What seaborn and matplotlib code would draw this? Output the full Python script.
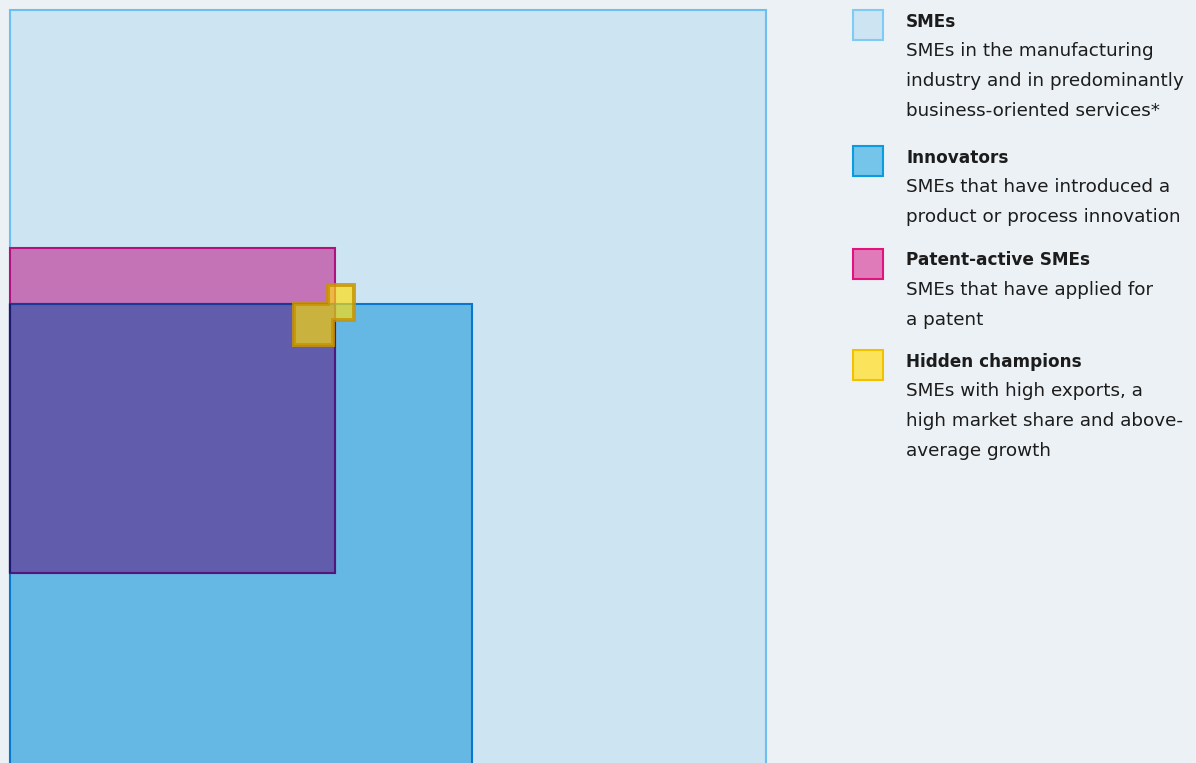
import matplotlib
matplotlib.use("Agg")
import matplotlib.pyplot as plt
from matplotlib.patches import Rectangle, Polygon
import seaborn as sns

# groups and legend texts
groups = ["SMEs", "Innovators", "Patent-active SMEs", "Hidden champions"]
descriptions = [
    ["SMEs in the manufacturing", "industry and in predominantly", "business-oriented services*"],
    ["SMEs that have introduced a", "product or process innovation"],
    ["SMEs that have applied for", "a patent"],
    ["SMEs with high exports, a", "high market share and above-", "average growth"],
]

# rectangles, in % of the side of the SME square (origin bottom left)
rect_group = ["SMEs", "Innovators", "Patent-active SMEs", "Hidden champions", "Hidden champions"]
rect_x = [0.0, 0.0, 0.0, 37.6, 42.0]
rect_y = [0.0, 0.0, 25.5, 55.75, 59.0]
rect_w = [100.0, 61.15, 43.0, 5.15, 3.55]
rect_h = [100.0, 61.15, 43.0, 5.4, 4.65]

BG = "#ECF1F5"
TEXT = "#1C1C1C"
chart_fill = {"SMEs": "#CDE4F2", "Innovators": "#66B8E4", "Patent-active SMEs": "#C473B6",
              "Hidden champions": "#FFDE0A"}
chart_edge = {"SMEs": "#6CBFEE", "Innovators": "#0A77CF", "Patent-active SMEs": "#B0147C",
              "Hidden champions": "#C89400"}
overlap_fill = "#615CAC"
overlap_edge = "#50187C"
overlap_top = "#1B3A98"
swatch_fill = {"SMEs": "#CDE4F2", "Innovators": "#75C4E9", "Patent-active SMEs": "#E07BB9",
               "Hidden champions": "#FBE45B"}
swatch_edge = {"SMEs": "#7ECBF3", "Innovators": "#0A9CE0", "Patent-active SMEs": "#E2127F",
               "Hidden champions": "#F2C200"}

sns.set_theme(style="white", rc={"figure.facecolor": BG, "axes.facecolor": BG})
plt.rcParams["font.family"] = ["DejaVu Sans"]

W, H = 1196, 763
fig = plt.figure(figsize=(W / 100, H / 100), dpi=100)
fig.patch.set_facecolor(BG)

ax = fig.add_axes([10.0 / W, (H - 766) / H, 756.0 / W, 756.0 / H])
ax.set_xlim(0, 100)
ax.set_ylim(0, 100)
ax.set_axis_off()

# big squares: SMEs, innovators, patent-active
for i in range(3):
    g = rect_group[i]
    ax.add_patch(Rectangle((rect_x[i], rect_y[i]), rect_w[i], rect_h[i],
                           facecolor=chart_fill[g], edgecolor=chart_edge[g],
                           lw=1.5, clip_on=False, zorder=2 + i))

# patent-active SMEs that are also innovators
ox0 = max(rect_x[1], rect_x[2])
oy0 = max(rect_y[1], rect_y[2])
ox1 = min(rect_x[1] + rect_w[1], rect_x[2] + rect_w[2])
oy1 = min(rect_y[1] + rect_h[1], rect_y[2] + rect_h[2])
ax.add_patch(Rectangle((ox0, oy0), ox1 - ox0, oy1 - oy0, facecolor=overlap_fill,
                       edgecolor=overlap_edge, lw=1.5, clip_on=False, zorder=6))
ax.plot([ox0, ox1], [oy1, oy1], color=overlap_top, lw=1.5, clip_on=False, zorder=7,
        solid_capstyle="butt")
ax.plot([ox0, ox0], [oy0, oy1], color="#1A1A6E", lw=1.5, clip_on=False, zorder=7,
        solid_capstyle="butt")

# hidden champions: outline of the two boxes together
xa0, ya0 = rect_x[3], rect_y[3]
xa1, ya1 = xa0 + rect_w[3], ya0 + rect_h[3]
xb0, yb0 = rect_x[4], rect_y[4]
xb1, yb1 = xb0 + rect_w[4], yb0 + rect_h[4]
hc = [(xa0, ya0), (xa1, ya0), (xa1, yb0), (xb1, yb0), (xb1, yb1), (xb0, yb1), (xb0, ya1), (xa0, ya1)]
ax.add_patch(Polygon(hc, closed=True, facecolor=chart_fill["Hidden champions"],
                     edgecolor="none", alpha=0.67, clip_on=False, zorder=8))
ax.add_patch(Polygon(hc, closed=True, facecolor="none",
                     edgecolor=chart_edge["Hidden champions"], lw=2.8, alpha=0.85,
                     joinstyle="miter", clip_on=False, zorder=9))

# legend on the right, in pixel units
lax = fig.add_axes([0, 0, 1, 1])
lax.set_xlim(0, W)
lax.set_ylim(H, 0)
lax.set_axis_off()

header_base = [26.7, 162.7, 265.0, 366.7]
step = 29.8
for g, desc, yb in zip(groups, descriptions, header_base):
    lax.add_patch(Rectangle((853, yb - 16.5), 30, 30, facecolor=swatch_fill[g],
                            edgecolor=swatch_edge[g], lw=1.5))
    lax.text(906, yb, g, fontsize=12.2, fontweight="bold", color=TEXT, va="baseline")
    for k, line in enumerate(desc):
        lax.text(906, yb + step * (k + 1), line, fontsize=13.2, color=TEXT, va="baseline")

fig.savefig("out.png", dpi=100, facecolor=BG)
